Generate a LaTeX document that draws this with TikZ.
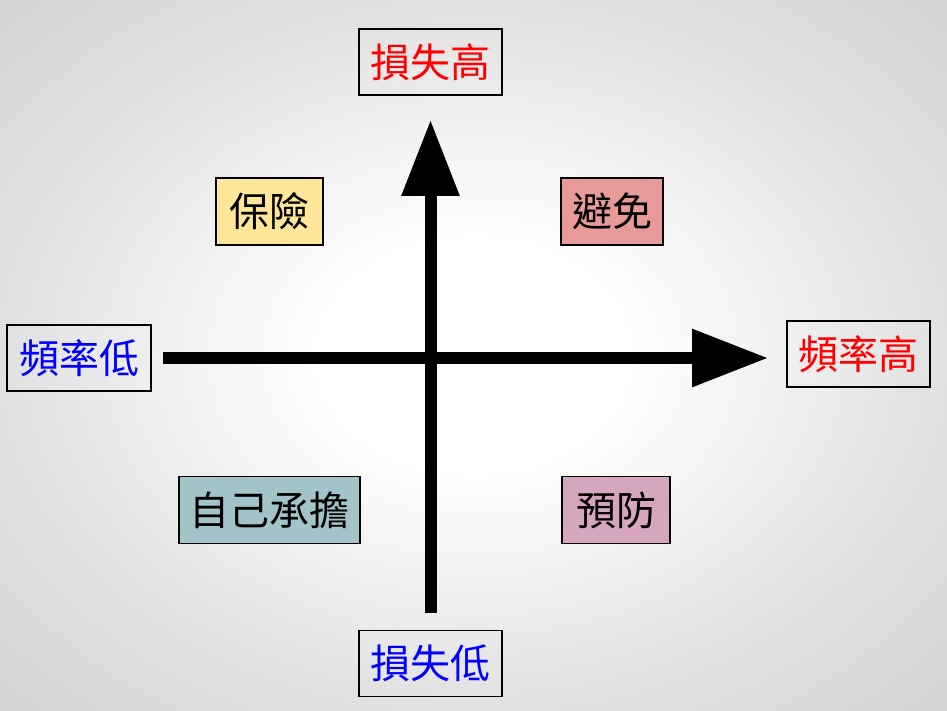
\documentclass[tikz,border=0pt]{standalone}
\usepackage{fontspec}
\newfontfamily\cjk{Noto Sans CJK TC}
\usetikzlibrary{arrows.meta}
\definecolor{highred}{RGB}{255,0,0}
\definecolor{lowblue}{RGB}{0,0,255}
\definecolor{insyellow}{RGB}{255,230,153}
\definecolor{avoidred}{RGB}{232,154,152}
\definecolor{selfteal}{RGB}{162,196,201}
\definecolor{prevpink}{RGB}{213,166,189}
\pgfdeclareradialshading{slidebg}{\pgfpoint{0bp}{0bp}}{color(0bp)=(white); color(8bp)=(white); color(25bp)=(black!12); color(36bp)=(black!17); color(50bp)=(black!17)}

\begin{document}
\begin{tikzpicture}[
  x=1pt, y=-1pt,
  lbl/.style={rectangle, draw=black, line width=1.6pt, minimum height=66pt,
              inner sep=0pt, font=\cjk\fontsize{40}{44}\selectfont},
  quad/.style={lbl, minimum height=67pt},
  axis/.style={line width=12pt, -{Triangle[length=76pt, width=55pt]}},
]
  \useasboundingbox (0,0) rectangle (947,711);
  \shade[shading=slidebg] (0,0) rectangle (947,711);

  % axis ends
  \node[lbl, minimum width=143pt, text=highred] (losshi) at (430.5,62) {損失高};
  \node[lbl, minimum width=143pt, text=lowblue] (losslo) at (430.5,663.5) {損失低};
  \node[lbl, minimum width=144pt, text=lowblue] (freqlo) at (79,358) {頻率低};
  \node[lbl, minimum width=143pt, text=highred] (freqhi) at (858.5,354) {頻率高};

  % quadrants
  \node[quad, minimum width=107pt, fill=insyellow] (insure) at (269.5,211.5) {保險};
  \node[quad, minimum width=102pt, fill=avoidred] (avoid) at (612,211.5) {避免};
  \node[quad, minimum width=181pt, fill=selfteal] (retain) at (269.5,510) {自己承擔};
  \node[quad, minimum width=108pt, fill=prevpink] (prevent) at (616,510) {預防};

  \draw[axis, shorten <=17pt, shorten >=24pt] (losslo) -- (losshi);
  \draw[axis, shorten <=11pt, shorten >=18pt] (freqlo) -- (freqlo -| freqhi.west);
\end{tikzpicture}
\end{document}
